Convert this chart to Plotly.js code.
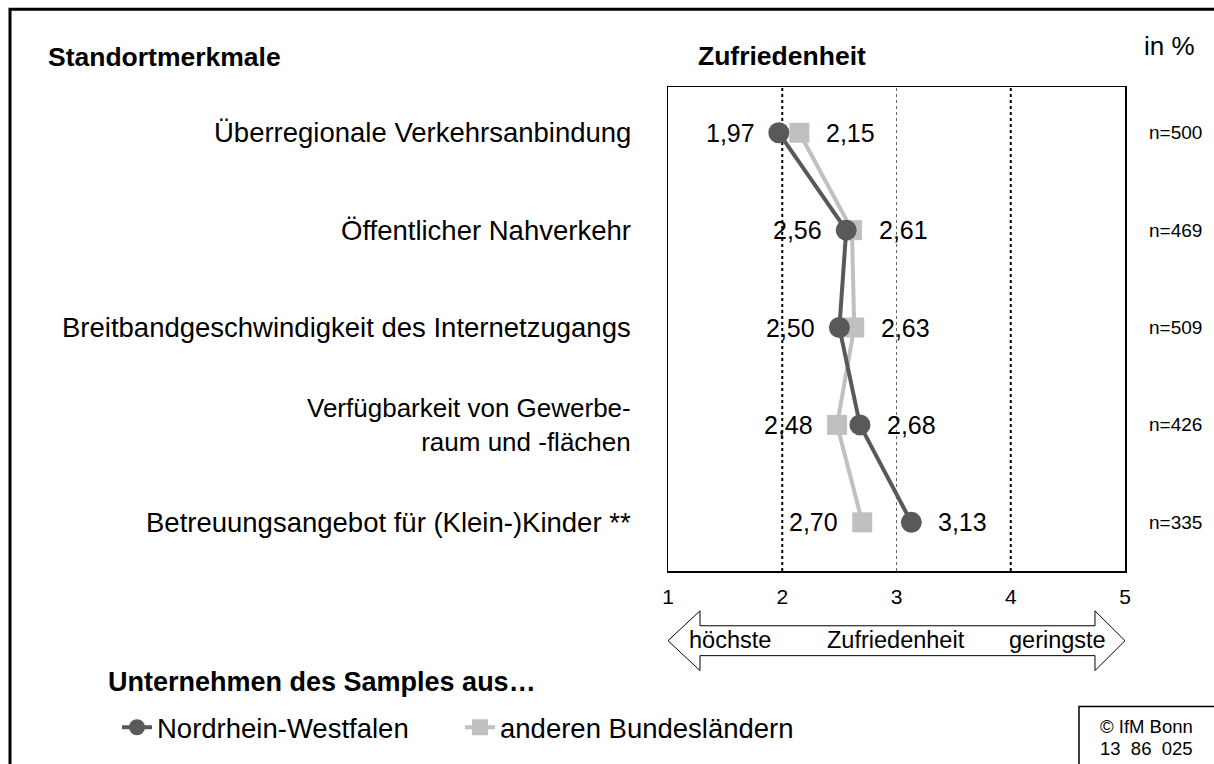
<!DOCTYPE html>
<html><head><meta charset="utf-8">
<script src="https://cdn.plot.ly/plotly-3.0.1.min.js"></script>
<style>html,body{margin:0;padding:0;background:#fff;overflow:hidden;} #chart{width:1214px;height:764px;}</style>
</head><body><div id="chart"></div>
<script>
// ---- data ----
const categories = [
  "Überregionale Verkehrsanbindung",
  "Öffentlicher Nahverkehr",
  "Breitbandgeschwindigkeit des Internetzugangs",
  "Verfügbarkeit von Gewerbe-<br>raum und -flächen",
  "Betreuungsangebot für (Klein-)Kinder **"
];
const nrwValues   = [1.97, 2.56, 2.50, 2.68, 3.13];
const otherValues = [2.15, 2.61, 2.63, 2.48, 2.70];
const sampleSizes = [500, 469, 509, 426, 335];
const xTickValues = [1, 2, 3, 4, 5];
const xTickLabels = ["1", "2", "3", "4", "5"];
const gridValues  = [2, 3, 4];
const seriesNames = ["Nordrhein-Westfalen", "anderen Bundesländern"];
const scaleLabels = ["höchste", "Zufriedenheit", "geringste"];
const headLeft  = "Standortmerkmale";
const headRight = "Zufriedenheit";
const unitLabel = "in %";
const legendHeading = "Unternehmen des Samples aus…";
const sourceLines = ["© IfM Bonn", "13  86  025"];

// ---- geometry helpers ----
const W = 1214, H = 764, L = 668, R = 1125, T = 87, B = 573;
const px2x = p => (p - L) / (R - L);
const py2y = p => (B - p) / (B - T);
const FONT = "Liberation Sans, Arial, Helvetica, sans-serif";
const cNRW = "#595959", cOther = "#c0c0c0";
const rows = categories.map((_, i) => i);
const fmt = v => v.toFixed(2).replace(".", ",");

const traces = [
  {x: otherValues, y: rows, name: seriesNames[1], type: "scatter", mode: "lines+markers",
   line: {color: cOther, width: 4}, marker: {symbol: "square", size: 20, color: cOther},
   legend: "legend2", hoverinfo: "skip"},
  {x: nrwValues, y: rows, name: seriesNames[0], type: "scatter", mode: "lines+markers",
   line: {color: cNRW, width: 4}, marker: {symbol: "circle", size: 21, color: cNRW},
   legend: "legend", hoverinfo: "skip"}
];

const ann = [];
categories.forEach((c, i) => {
  const multi = c.indexOf("<br>") >= 0;
  ann.push({text: c, x: px2x(633), xref: "paper", y: i, yref: "y", xanchor: "right", align: "right",
            yanchor: "middle", showarrow: false,
            font: {family: FONT, size: multi ? 26 : 27.5, color: "#000"}});
  ann.push({text: "n=" + sampleSizes[i], x: px2x(1147), xref: "paper", y: i, yref: "y", xanchor: "left",
            yanchor: "middle", showarrow: false, font: {family: FONT, size: 19, color: "#000"}});
  const pair = [nrwValues[i], otherValues[i]];
  pair.forEach((v, k) => {
    const isLeft = v < pair[1 - k] || (v === pair[1 - k] && k === 0);
    ann.push({text: fmt(v), x: v, xref: "x", y: i, yref: "y",
              xanchor: isLeft ? "right" : "left", xshift: isLeft ? -22 : 25,
              yanchor: "middle", showarrow: false, font: {family: FONT, size: 25, color: "#000"}});
  });
});
ann.push({text: "<b>" + headLeft + "</b>", x: px2x(46), xref: "paper", y: py2y(57), yref: "paper",
          xanchor: "left", yanchor: "middle", showarrow: false, font: {family: FONT, size: 26.5, color: "#000"}});
ann.push({text: "<b>" + headRight + "</b>", x: px2x(696), xref: "paper", y: py2y(56), yref: "paper",
          xanchor: "left", yanchor: "middle", showarrow: false, font: {family: FONT, size: 26.5, color: "#000"}});
ann.push({text: unitLabel, x: px2x(1142), xref: "paper", y: py2y(46), yref: "paper",
          xanchor: "left", yanchor: "middle", showarrow: false, font: {family: FONT, size: 26, color: "#000"}});
ann.push({text: "<b>" + legendHeading + "</b>", x: px2x(106), xref: "paper", y: py2y(684), yref: "paper",
          xanchor: "left", yanchor: "middle", showarrow: false, font: {family: FONT, size: 27, color: "#000"}});
ann.push({text: scaleLabels[0], x: px2x(687), xref: "paper", y: py2y(642), yref: "paper",
          xanchor: "left", yanchor: "middle", showarrow: false, font: {family: FONT, size: 23.5, color: "#000"}});
ann.push({text: scaleLabels[1], x: px2x(896), xref: "paper", y: py2y(642), yref: "paper",
          xanchor: "center", yanchor: "middle", showarrow: false, font: {family: FONT, size: 23.5, color: "#000"}});
ann.push({text: scaleLabels[2], x: px2x(1108), xref: "paper", y: py2y(642), yref: "paper",
          xanchor: "right", yanchor: "middle", showarrow: false, font: {family: FONT, size: 23.5, color: "#000"}});
sourceLines.forEach((s, k) => {
  ann.push({text: s, x: px2x(1146), xref: "paper", y: py2y(729 + 22 * k), yref: "paper",
            xanchor: "center", yanchor: "middle", showarrow: false, font: {family: FONT, size: 18.5, color: "#000"}});
});

const shapes = [];
gridValues.forEach(g => {
  const major = g !== 3;
  shapes.push({type: "line", xref: "x", yref: "paper", x0: g, x1: g, y0: 0, y1: 1, layer: "below",
               line: {color: major ? "#000" : "#666", width: major ? 2 : 1, dash: major ? "dot" : "3px,3px"}});
});
// double-headed arrow
const ap = [[668,643],[700,613],[700,628],[1095,628],[1095,613],[1125,643],[1095,673],[1095,658],[700,658],[700,673]];
shapes.push({type: "path", xref: "paper", yref: "paper",
  path: "M" + ap.map(p => px2x(p[0]).toFixed(5) + "," + py2y(p[1]).toFixed(5)).join(" L") + " Z",
  line: {color: "#000", width: 1}, fillcolor: "#fff"});
// outer frame
shapes.push({type: "rect", xref: "paper", yref: "paper", x0: px2x(10), x1: px2x(1260), y0: py2y(9), y1: py2y(800),
             line: {color: "#000", width: 3}, fillcolor: "rgba(0,0,0,0)"});
// source box
shapes.push({type: "rect", xref: "paper", yref: "paper", x0: px2x(1079), x1: px2x(1260), y0: py2y(709), y1: py2y(800),
             line: {color: "#000", width: 1.5}, fillcolor: "rgba(0,0,0,0)"});

const legendBase = {orientation: "h", yanchor: "middle", xanchor: "left", y: py2y(730),
  bgcolor: "rgba(0,0,0,0)", borderwidth: 0, font: {family: FONT, size: 27.5, color: "#000"}, itemclick: false};

const layout = {
  width: W, height: H, autosize: false,
  margin: {l: L, r: W - R, t: T, b: H - B, pad: 0},
  paper_bgcolor: "#fff", plot_bgcolor: "#fff",
  showlegend: true,
  legend: Object.assign({}, legendBase, {x: px2x(117)}),
  legend2: Object.assign({}, legendBase, {x: px2x(460)}),
  xaxis: {range: [1, 5], tickvals: xTickValues, ticktext: xTickLabels, ticks: "", showgrid: false,
          zeroline: false, showline: true, mirror: true, linecolor: "#000", linewidth: 1.5,
          tickfont: {family: FONT, size: 21, color: "#000"}, ticklabelstandoff: 6, fixedrange: true},
  yaxis: {range: [4.5, -0.47], autorange: false, showticklabels: false, ticks: "", showgrid: false,
          zeroline: false, showline: true, mirror: true, linecolor: "#000", linewidth: 1.5, fixedrange: true},
  annotations: ann,
  shapes: shapes
};

Plotly.newPlot("chart", traces, layout, {displayModeBar: false, staticPlot: true});
</script>
</body></html>
